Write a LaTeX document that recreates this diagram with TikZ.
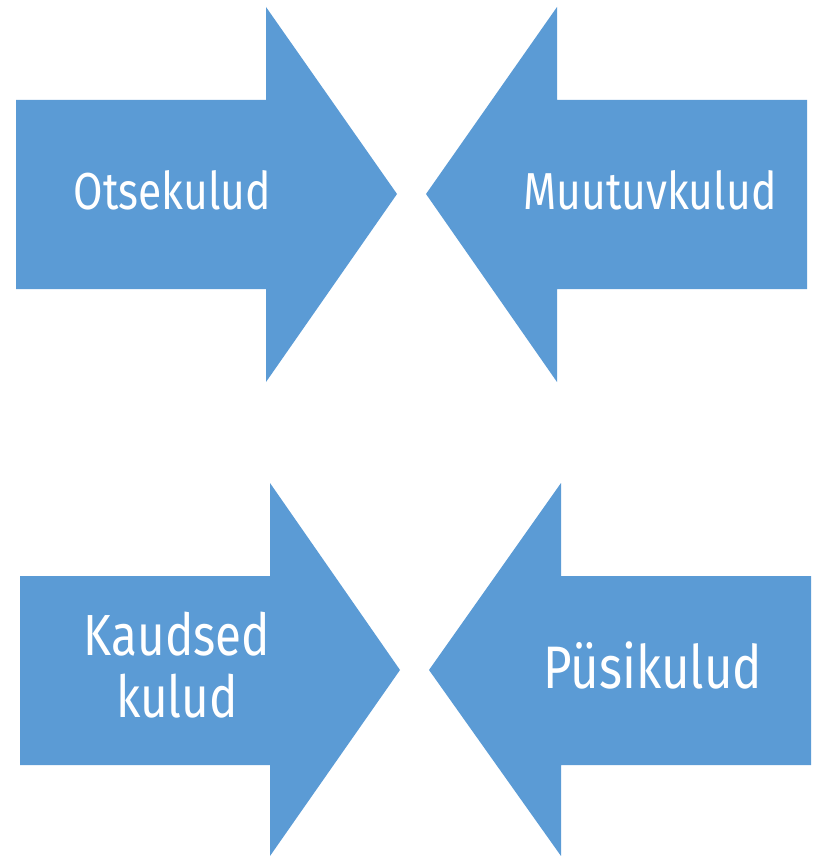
\documentclass[tikz,border=0pt]{standalone}
\usepackage{fontspec}
\setmainfont{Fira Sans}[FakeStretch=0.82]
\definecolor{arrowblue}{HTML}{5B9BD5}
\begin{document}
\begin{tikzpicture}[x=1pt,y=-1pt,
  arrowfill/.style={fill=arrowblue,draw=none},
  lbl/.style={text=white,anchor=base,inner sep=0pt,align=center}]
\useasboundingbox (0,0) rectangle (812,856);
% top-left arrow (right)
\fill[arrowfill] (16,100) -- (266,100) -- (266,7) -- (397,194) -- (266,382) -- (266,289) -- (16,289) -- cycle;
% top-right arrow (left)
\fill[arrowfill] (807,100) -- (557,100) -- (557,7) -- (426,194) -- (557,382) -- (557,289) -- (807,289) -- cycle;
% bottom-left arrow (right)
\fill[arrowfill] (20,576) -- (270,576) -- (270,483) -- (400,670) -- (270,856) -- (270,765) -- (20,765) -- cycle;
% bottom-right arrow (left)
\fill[arrowfill] (811,576) -- (561,576) -- (561,483) -- (429,670) -- (561,856) -- (561,765) -- (811,765) -- cycle;
\node[lbl,font=\fontsize{52}{60}\selectfont] (t1) at (172.5,209) {Otsekulud};
\node[lbl,font=\fontsize{52}{60}\selectfont] (t2) at (650,209) {Muutuvkulud};
\node[lbl,font=\fontsize{58}{62}\selectfont] (t3a) at (177,655) {Kaudsed};
\node[lbl,font=\fontsize{58}{62}\selectfont] (t3b) at (177,717) {kulud};
\node[lbl,font=\fontsize{60}{70}\selectfont] (t4) at (653,688) {Püsikulud};
\end{tikzpicture}
\end{document}
